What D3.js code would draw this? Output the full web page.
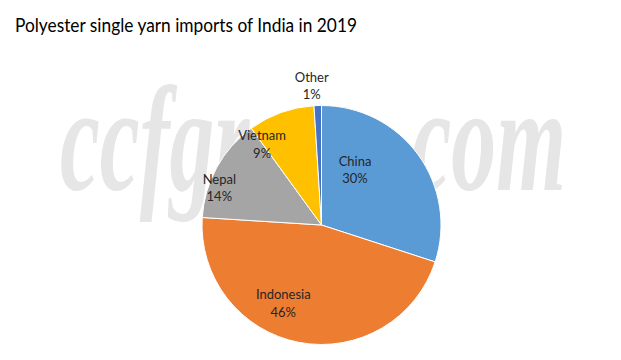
<!DOCTYPE html>
<html><head><meta charset="utf-8">
<script src="https://cdn.jsdelivr.net/npm/d3@7"></script>
<style>body{margin:0;background:#fff}svg{display:block}</style>
</head><body>
<svg id="chart" width="621" height="360"></svg>
<script>
const categories = ["China", "Indonesia", "Nepal", "Vietnam", "Other"];
const values = [30, 46, 14, 9, 1];
const colors = ["#5B9BD5", "#ED7D31", "#A5A5A5", "#FFC000", "#4472C4"];
// label placement (style): [radius fraction, angle in degrees clockwise from top]
const labelPlacement = [[0.54, 31.3], [0.73, 206], [0.91, 290], [0.84, 323.7], [1.17, 356]];

const svg = d3.select("#chart");
const W = 621, H = 360;
svg.append("rect").attr("width", W).attr("height", H).attr("fill", "#fff");

// watermark
svg.append("text")
  .attr("x", 60).attr("y", 190)
  .attr("font-family", "Liberation Serif").attr("font-style", "italic").attr("font-weight", "bold")
  .attr("font-size", 150).attr("fill", "#e6e6e6")
  .attr("textLength", 506).attr("lengthAdjust", "spacingAndGlyphs")
  .text("ccfgroup.com");

svg.append("text")
  .attr("x", 15).attr("y", 32)
  .attr("font-family", "Lato").attr("font-size", 18.5).attr("fill", "#000")
  .attr("textLength", 342).attr("lengthAdjust", "spacingAndGlyphs")
  .text("Polyester single yarn imports of India in 2019");

const cx = 321.5, cy = 225, r = 119.5;
const g = svg.append("g").attr("transform", `translate(${cx},${cy})`);
const pie = d3.pie().sort(null).value(d => d)(values);
const arc = d3.arc().innerRadius(0).outerRadius(r);
g.selectAll("path").data(pie).join("path")
  .attr("d", arc).attr("fill", (d, i) => colors[i])
  .attr("stroke", "#fff").attr("stroke-width", 1);

const total = d3.sum(values);
g.selectAll("g.lbl").data(pie).join("g").attr("class", "lbl")
  .each(function(d, i) {
    const [f, ang] = labelPlacement[i];
    const a = ang * Math.PI / 180;
    const x = Math.sin(a) * r * f, y = -Math.cos(a) * r * f;
    const t = d3.select(this).append("text")
      .attr("text-anchor", "middle").attr("font-family", "Lato")
      .attr("font-size", 13).attr("fill", "#262626");
    t.append("tspan").attr("x", x).attr("y", y - 4).text(categories[i]);
    t.append("tspan").attr("x", x).attr("y", y + 13.5).text(Math.round(values[i] / total * 100) + "%");
  });
</script>
</body></html>
